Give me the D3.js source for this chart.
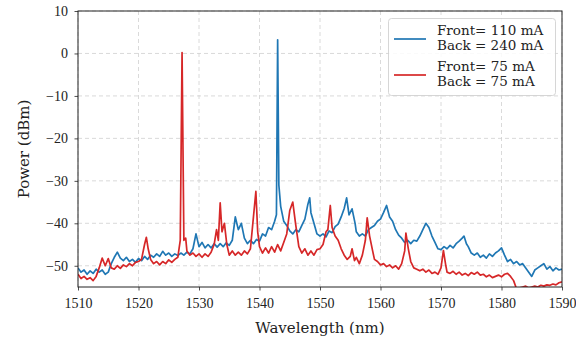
<!DOCTYPE html>
<html>
<head>
<meta charset="utf-8">
<title>Spectrum</title>
<script src="https://d3js.org/d3.v7.min.js"></script>
<style>
body { margin: 0; background: white; }
svg text { font-family: "Liberation Serif", serif; fill: #222; }
svg text.lab { font-family: "DejaVu Serif", serif; }
.grid line { stroke: #d0d0d0; stroke-dasharray: 4,3; stroke-width: 0.8; }
</style>
</head>
<body>
<div id="chart"></div>
<script>
// wavelength (nm) / power (dBm)
var blueWl = [1510,1510.5,1511,1511.5,1512,1512.5,1513,1513.5,1514,1514.5,1515,1515.5,1516,1516.5,1517,1517.5,1518,1518.5,1519,1519.5,
  1520,1520.5,1521,1521.5,1522,1522.5,1523,1523.5,1524,1524.5,1525,1525.5,1526,1526.5,1527,1527.5,1528,1528.5,1529,1529.5,
  1530,1530.5,1531,1531.5,1532,1532.5,1533,1533.5,1534,1534.5,1535,1535.5,1536,1536.5,1537,1537.5,1538,1538.5,1539,1539.5,
  1540,1540.5,1541,1541.5,1542,1542.5,1542.8,1543,1543.2,1543.5,1544,1544.5,1545,1545.5,1546,1546.5,1547,1547.5,1548,1548.3,1548.5,1549,1549.5,
  1550,1550.5,1551,1551.5,1552,1552.5,1553,1553.5,1554,1554.4,1554.8,1555.3,1555.8,1556,1556.5,1557,1557.5,1558,1558.5,1559,1559.5,
  1560,1560.5,1561,1561.5,1562,1562.5,1563,1563.5,1564,1564.5,1565,1565.5,1566,1566.5,1567,1567.5,1568,1568.5,1569,1569.5,
  1570,1570.5,1571,1571.5,1572,1572.5,1573,1573.5,1573.8,1574.2,1574.5,1575,1575.5,1576,1576.5,1577,1577.5,1578,1578.5,1579,1579.5,
  1580,1580.5,1581,1581.5,1582,1582.5,1583,1583.5,1584,1584.5,1585,1585.5,1586,1586.5,1587,1587.5,1588,1588.5,1589,1589.5,1590];
var bluePow = [-50.5,-51.5,-51.0,-52.0,-51.2,-51.8,-50.8,-51.5,-51.0,-52.0,-51.5,-49.5,-48.0,-46.8,-48.2,-48.8,-48.0,-49.0,-48.5,-49.2,
  -48.3,-48.8,-47.8,-48.5,-47.5,-48.0,-47.2,-47.8,-46.6,-47.5,-47.0,-47.8,-47.2,-47.6,-47.0,-47.5,-46.8,-47.2,-46.0,-42.5,
  -45.5,-44.5,-45.8,-45.0,-45.8,-44.8,-45.6,-44.8,-45.5,-44.6,-45.2,-44.0,-38.5,-41.5,-40.0,-43.5,-44.8,-44.0,-44.8,-43.8,
  -44.2,-42.5,-43.0,-41.0,-41.5,-39.5,-38.0,3.2,-31.0,-36.0,-39.5,-40.5,-41.8,-42.5,-41.5,-42.0,-40.5,-39.0,-35.5,-34.0,-37.5,-40.0,-42.5,
  -43.0,-42.5,-43.2,-41.8,-42.2,-40.8,-40.2,-38.5,-36.5,-34.0,-38.0,-36.6,-40.0,-42.0,-43.0,-42.5,-43.0,-41.5,-41.0,-40.5,-39.5,
  -39.0,-37.5,-35.8,-38.5,-39.5,-41.5,-42.8,-43.5,-44.5,-44.0,-44.8,-44.0,-44.2,-43.0,-41.5,-40.0,-41.0,-43.0,-44.5,-46.0,
  -46.2,-45.5,-46.0,-45.2,-45.8,-44.8,-44.2,-43.5,-43.0,-44.8,-45.5,-47.0,-47.5,-47.0,-48.0,-47.5,-48.2,-47.2,-47.8,-47.0,-46.5,
  -45.8,-47.5,-49.0,-48.5,-49.5,-49.0,-49.8,-49.5,-50.5,-51.5,-52.5,-51.0,-50.5,-50.0,-49.5,-50.8,-50.2,-51.2,-50.5,-51.0,-50.8];

var redWl = [1510,1510.5,1511,1511.5,1512,1512.5,1513,1513.5,1514,1514.5,1515,1515.5,1516,1516.5,1517,1517.5,1518,1518.5,1519,1519.5,
  1520,1520.5,1521,1521.3,1521.6,1522,1522.5,1523,1523.5,1524,1524.5,1525,1525.5,1526,1526.5,1526.9,1527.2,1527.5,1527.8,1528,1528.5,1529,1529.5,
  1530,1530.5,1531,1531.5,1532,1532.5,1532.9,1533.2,1533.5,1533.8,1534.2,1534.6,1535,1535.5,1536,1536.5,1537,1537.5,1538,1538.5,1539,1539.4,1539.7,
  1540,1540.5,1541,1541.5,1542,1542.5,1543,1543.5,1544,1544.5,1545,1545.5,1546,1546.5,1547,1547.5,1548,1548.5,1549,1549.5,
  1550,1550.5,1551,1551.3,1551.7,1552,1552.5,1553,1553.5,1554,1554.5,1555,1555.3,1555.7,1556,1556.5,1557,1557.5,1557.8,1558.2,1558.7,1559,1559.5,
  1560,1560.5,1561,1561.5,1562,1562.5,1563,1563.5,1564,1564.2,1564.6,1565,1565.5,1566,1566.5,1567,1567.5,1568,1568.5,1569,1569.5,
  1570,1570.4,1570.8,1571,1571.5,1572,1572.5,1573,1573.5,1574,1574.5,1575,1575.5,1576,1576.5,1577,1577.5,1578,1578.5,1579,1579.5,
  1580,1580.5,1581,1581.5,1582,1582.5,1583,1583.5,1584,1584.5,1585,1585.5,1586,1586.5,1587,1587.5,1588,1588.5,1589,1589.5,1590];
var redPow = [-52.0,-53.0,-52.5,-53.2,-52.8,-53.5,-52.5,-50.5,-48.2,-50.0,-48.3,-50.5,-50.8,-50.0,-50.6,-49.8,-50.2,-49.5,-50.0,-49.2,
  -49.0,-48.5,-45.0,-43.3,-46.0,-48.5,-49.5,-49.0,-49.8,-49.0,-49.5,-48.6,-49.2,-48.5,-48.0,-44.0,0.2,-44.0,-43.5,-46.5,-47.5,-47.0,-47.8,
  -47.2,-48.0,-47.2,-47.8,-46.8,-45.0,-41.5,-44.0,-35.2,-42.0,-40.0,-45.0,-47.5,-46.5,-47.5,-46.8,-47.5,-46.5,-47.2,-46.0,-38.5,-32.5,-42.0,
  -45.5,-47.0,-45.8,-47.0,-45.5,-46.8,-45.0,-46.5,-44.5,-42.5,-37.0,-35.0,-40.5,-45.5,-47.0,-46.0,-47.5,-46.5,-47.5,-46.2,
  -46.0,-45.0,-42.0,-41.5,-35.8,-41.0,-43.0,-44.0,-46.0,-47.5,-48.5,-47.8,-46.0,-48.8,-48.0,-49.5,-47.5,-44.0,-38.7,-43.0,-46.5,-48.5,-49.0,
  -49.8,-49.5,-50.2,-49.8,-50.5,-50.0,-50.8,-49.5,-46.5,-42.3,-46.0,-49.0,-50.5,-50.8,-51.2,-50.8,-51.5,-51.0,-51.8,-51.5,-52.0,
  -50.5,-46.4,-50.0,-51.5,-51.8,-51.3,-52.0,-51.5,-52.2,-51.8,-52.3,-51.6,-52.0,-51.5,-52.2,-52.0,-52.6,-52.2,-52.8,-52.5,-52.2,
  -52.6,-52.0,-51.8,-52.5,-53.5,-55.5,-55.2,-55.0,-54.8,-55.2,-55.0,-54.8,-55.0,-54.6,-54.8,-54.5,-54.6,-54.3,-54.5,-54.0,-53.8];

var xTicks = [1510,1520,1530,1540,1550,1560,1570,1580,1590];
var yTicks = [-50,-40,-30,-20,-10,0,10];
var legendLines = [["Front= 110 mA","Back = 240 mA"],["Front= 75 mA","Back = 75 mA"]];
var colors = ["#1f77b4","#d62728"];

var margin = {top: 11, right: 14, bottom: 50, left: 78},
    width = 576 - margin.left - margin.right,
    height = 337 - margin.top - margin.bottom;

var svg = d3.select("#chart").append("svg")
    .attr("width", 576).attr("height", 337);
var g = svg.append("g").attr("transform", "translate(" + margin.left + "," + margin.top + ")");

var x = d3.scaleLinear().domain([1510,1590]).range([0,width]);
var y = d3.scaleLinear().domain([-55,10]).range([height,0]);

// grid
g.append("g").attr("class","grid")
  .selectAll("line").data(xTicks).enter().append("line")
  .attr("x1", d => x(d)).attr("x2", d => x(d)).attr("y1", 0).attr("y2", height);
g.append("g").attr("class","grid")
  .selectAll("line").data(yTicks).enter().append("line")
  .attr("x1", 0).attr("x2", width).attr("y1", d => y(d)).attr("y2", d => y(d));

svg.append("clipPath").attr("id","clip").append("rect")
  .attr("width", width).attr("height", height);

var line = d3.line().x(d => x(d[0])).y(d => y(d[1]));
var series = [d3.zip(blueWl, bluePow), d3.zip(redWl, redPow)];
g.append("g").attr("clip-path","url(#clip)")
  .selectAll("path").data(series).enter().append("path")
  .attr("d", line)
  .attr("fill","none")
  .attr("stroke", (d,i) => colors[i])
  .attr("stroke-width", 1.7)
  .attr("stroke-linejoin","round");

var minus = s => String(s).replace("-", "\u2212");

var xAxis = g.append("g").attr("transform","translate(0," + height + ")")
  .call(d3.axisBottom(x).tickValues(xTicks).tickSize(3.5).tickPadding(8).tickFormat(d3.format("d")));
var yAxis = g.append("g")
  .call(d3.axisLeft(y).tickValues(yTicks).tickSize(3.5).tickPadding(6.5).tickFormat(minus));
[xAxis, yAxis].forEach(function(a) {
  a.select(".domain").remove();
  a.selectAll("line").attr("stroke","#222").attr("stroke-width",0.8);
  a.selectAll("text").style("font-size","14px").attr("fill","#333");
});

// frame
g.append("rect").attr("width", width).attr("height", height)
  .attr("fill","none").attr("stroke","#222").attr("stroke-width",1);

svg.append("text").attr("class","lab").attr("x", margin.left + width/2).attr("y", 332.5)
  .attr("text-anchor","middle").style("font-size","15px").text("Wavelength (nm)");
svg.append("text").attr("class","lab").attr("transform","translate(28.5," + (margin.top + height/2) + ") rotate(-90)")
  .attr("text-anchor","middle").style("font-size","15px").text("Power (dBm)");

// legend
var leg = svg.append("g");
leg.append("rect").attr("x",388.5).attr("y",18.5).attr("width",167).attr("height",77)
  .attr("rx",3).attr("fill","white").attr("fill-opacity",0.85)
  .attr("stroke","#ccc").attr("stroke-width",0.8);
legendLines.forEach(function(lines, i) {
  var cy = 39 + i * 36;
  leg.append("line").attr("x1",394).attr("x2",426).attr("y1",cy).attr("y2",cy)
    .attr("stroke",colors[i]).attr("stroke-width",1.7);
  lines.forEach(function(t, j) {
    leg.append("text").attr("class","lab").attr("x",437).attr("y", cy - 4 + j * 14.5)
      .style("font-size","13.5px").text(t);
  });
});
</script>
</body>
</html>
